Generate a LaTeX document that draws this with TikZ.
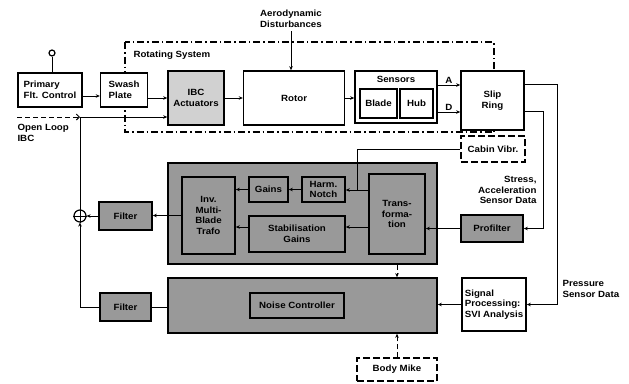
\documentclass[tikz,border=0pt]{standalone}
\usepackage{fontspec}
\setmainfont{Liberation Sans}[FakeStretch=1.08]
\usepackage{tikz}
\usetikzlibrary{arrows.meta,positioning,calc}
\definecolor{ctrlGray}{gray}{0.60}
\definecolor{ibcGray} {gray}{0.82}

\begin{document}
\begin{tikzpicture}[x=1pt, y=-1pt,
      font=\bfseries\fontsize{9}{10.5}\selectfont,
      box/.style={draw=black, line width=1.6pt, fill=white, inner sep=1pt,
                  align=center},
      shade/.style={box, fill=ctrlGray},
      dbox/.style={box, line width=1.4pt, dash pattern=on 7pt off 3pt},
      wire/.style={line width=1pt, draw=black},
      flow/.style={wire, -{Stealth[length=4pt, width=3.5pt]}},
      dflow/.style={flow, dash pattern=on 5pt off 3pt},
      rotframe/.style={line width=1.5pt, dash pattern=on 7pt off 3pt on 1.5pt off 3pt}]

    \useasboundingbox (0,0) rectangle (629,383);

    % rotating system frame, drawn first
    \draw[rotframe] (125,42) rectangle (494,132);
    \node[anchor=west] (rotlbl) at (130,55) {Rotating System};

    % upper row
    \node[box, minimum width=64, minimum height=34, align=left] (prim) at (50,90)
      {Primary\\Flt. Control};
    \node[circle, draw, line width=1.2pt, inner sep=0pt, minimum size=6] (knob) at (52,53) {};
    \node[box, minimum width=47, minimum height=34, align=left, right=17pt of prim] (swash)
      {Swash\\Plate};
    \node[box, fill=ibcGray, minimum width=56, minimum height=54] (ibc) at (196,98)
      {IBC\\Actuators};
    \node[box, minimum width=101, minimum height=54, right=18pt of ibc] (rotor) {Rotor};
    \node[box, minimum width=82, minimum height=52] (sensors) at (396,97) {};
    \node[below=2pt of sensors.north] (senslbl) {Sensors};
    \node[box, minimum width=37, minimum height=29] (blade) at (378.5,103.5) {Blade};
    \node[box, minimum width=33, minimum height=29, right=1.5pt of blade] (hub) {Hub};
    \node[box, minimum width=63, minimum height=59] (slip) at (492.5,100.5) {Slip\\Ring};

    \node[align=center] (aero) at (291,19) {Aerodynamic\\Disturbances};

    % open loop input
    \coordinate (olin)   at (17,117);
    \coordinate (oljoin) at (80,117);
    \node[anchor=north west, align=left] (oltext) at (14,121) {Open Loop\\IBC};

    % controller block
    \node[shade, minimum width=269, minimum height=101] (ctrl) at (302.5,213.5) {};
    \node[shade, minimum width=53, minimum height=77] (trafo) at (208.5,215.5)
      {Inv.\\Multi-\\Blade\\Trafo};
    \node[shade, minimum width=39, minimum height=25] (gains) at (268.5,189.5) {Gains};
    \node[shade, minimum width=43, minimum height=25] (notch) at (323.5,189.5)
      {Harm.\\Notch};
    \node[shade, minimum width=96, minimum height=36] (stab) at (297,234)
      {Stabilisation\\Gains};
    \node[shade, minimum width=56, minimum height=80] (trans) at (397,214)
      {Trans-\\forma-\\tion};

    \node[shade, minimum width=53, minimum height=28] (filter1) at (125.5,216) {Filter};
    \node[circle, draw, line width=1.2pt, inner sep=0pt, minimum size=12] (sum) at (80,216) {};

    \node[dbox, minimum width=64, minimum height=26] (cabin) at (493,149) {Cabin Vibr.};
    \node[shade, minimum width=62, minimum height=27] (profilter) at (492,228.5) {Profilter};
    \node[anchor=north east, align=right] (stresslbl) at (540,173)
      {Stress,\\Acceleration\\Sensor Data};

    % noise controller block
    \node[shade, minimum width=269, minimum height=55] (noise) at (302.5,305.5) {};
    \node[shade, minimum width=94, minimum height=25] (ncontrol) at (297,305.5)
      {Noise Controller};
    \node[shade, minimum width=51, minimum height=28] (filter2) at (125.5,307) {Filter};
    \node[box, minimum width=64, minimum height=53, align=left] (sigproc) at (494,304.5)
      {Signal\\Processing:\\SVI Analysis};
    \node[anchor=north west, align=left] (presslbl) at (559,277) {Pressure\\Sensor Data};
    \node[dbox, minimum width=80, minimum height=23] (bodymike) at (397,369.5) {Body Mike};

    % upper row connections
    \draw[wire] (knob) -- (knob |- prim.north);
    \draw[flow] ([yshift=-6pt]prim.east) -- ([yshift=-6pt]swash.west);
    \draw[flow] (swash.east |- ibc) -- (ibc.west);
    \draw[flow] (ibc) -- (rotor);
    \draw[flow] (rotor.east) -- (rotor.east -| sensors.west);
    \draw[flow] (aero.south) -- (aero.south |- rotor.north);
    \coordinate (sA) at ([yshift=12pt]sensors.east);
    \coordinate (sD) at ([yshift=-15pt]sensors.east);
    \draw[flow] (sA) -- (sA -| slip.west) node[midway, above, inner sep=1pt] (labA) {A};
    \draw[flow] (sD) -- (sD -| slip.west) node[midway, above, inner sep=1pt] (labD) {D};

    % open loop and summing point
    \draw[wire, dash pattern=on 5pt off 3pt, -{Straight Barb[length=3pt]}] (olin) -- (oljoin);
    \draw[flow] (oljoin) -- (oljoin -| ibc.west);
    \draw[wire] (sum.north) -- (oljoin);
    \draw[wire] (sum.north) -- (sum.south) (sum.west) -- (sum.east);

    % inside controller
    \coordinate (cvjoin) at (357,190);
    \coordinate (stabin) at ([yshift=7pt]stab.east);
    \draw[wire] (cabin.west) -| (cvjoin);
    \draw[flow] (trans.west |- cvjoin) -- (notch.east |- cvjoin);
    \draw[flow] (notch.west) -- (gains.east);
    \draw[flow] (gains.west) -- (gains.west -| trafo.east);
    \draw[flow] (stabin -| trans.west) -- (stabin);
    \draw[flow] (stab.west |- stabin) -- (stabin -| trafo.east);
    \draw[flow] (trafo.west) -- (trafo.west -| filter1.east);
    \draw[flow] (filter1.west) -- (sum.east);
    \draw[flow] (profilter.west) -- (profilter.west -| trans.east);

    % sensor lines from slip ring
    \coordinate (slipA) at ([yshift=16pt]slip.east);
    \coordinate (slipD) at ([yshift=-10.5pt]slip.east);
    \draw[flow] (slipD) -- ++(19,0) |- (profilter.east);
    \draw[flow] (slipA) -- ++(33,0) |- (sigproc.east);

    % noise path
    \draw[flow] (sigproc.west) -- (sigproc.west -| noise.east);
    \draw[wire] (noise.west |- filter2) -- (filter2.east);
    \draw[flow] (filter2.west) -| (sum.south);
    \draw[dflow] (trans.south |- ctrl.south) -- (trans.south |- noise.north);
    \draw[dflow] (bodymike.north) -- (bodymike.north |- noise.south);
  \end{tikzpicture}
\end{document}
